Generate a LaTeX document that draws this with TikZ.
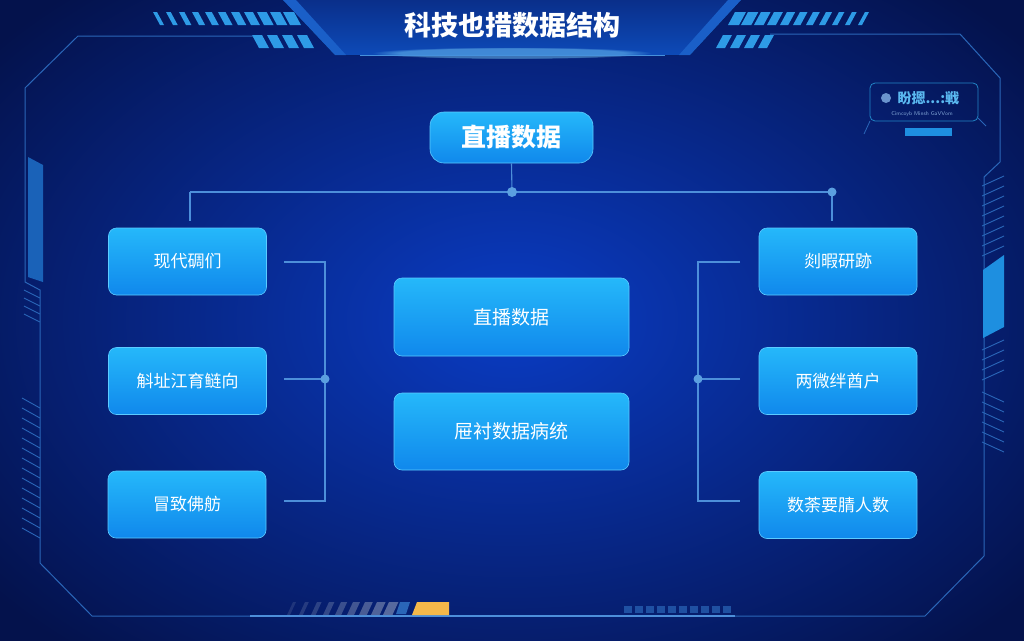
\documentclass[tikz,border=0pt]{standalone}
\usepackage{fontspec}
\newfontfamily\cjk{Noto Sans CJK SC}
\usetikzlibrary{fadings}
\definecolor{bgin}{HTML}{0A3CC4}
\definecolor{bgout}{HTML}{04124C}
\definecolor{boxtop}{HTML}{25B8FA}
\definecolor{boxbot}{HTML}{1088EC}
\definecolor{boxedge}{HTML}{5CCBFF}
\definecolor{conncol}{HTML}{4D8FDA}
\definecolor{dotcol}{HTML}{5B9FE0}
\definecolor{stripecol}{HTML}{2E9BE6}
\definecolor{framecol}{HTML}{2A66B8}
\definecolor{bandtop}{HTML}{0A2F8A}
\definecolor{bandbot}{HTML}{0D4AB8}
\definecolor{wingcol}{HTML}{1A5FC8}
\definecolor{glowcol}{HTML}{7FD8FF}
\definecolor{sidefill}{HTML}{1A62B8}
\definecolor{sidebright}{HTML}{1E8FE0}
\definecolor{orangecol}{HTML}{F5B84A}
\definecolor{greystripe}{HTML}{6A7BA8}
\definecolor{infotext}{HTML}{5AB8F0}
\tikzset{
  box/.style={rectangle, rounded corners=8pt, top color=boxtop, bottom color=boxbot,
    draw=boxedge, line width=0.6pt, text=white, inner sep=0pt,
    minimum width=158pt, minimum height=67pt, font=\cjk\fontsize{17}{20}\selectfont},
  midbox/.style={box, minimum width=235pt, minimum height=78pt, font=\cjk\fontsize{19}{22}\selectfont},
  topbox/.style={box, rounded corners=14pt, minimum width=163pt, minimum height=51pt,
    font=\cjk\bfseries\fontsize{25}{28}\selectfont},
  conn/.style={draw=conncol, line width=1.1pt},
  jdot/.style={fill=dotcol},
  frameline/.style={draw=framecol, line width=1pt},
  stripe/.style={fill=stripecol},
  hatch/.style={draw=framecol, line width=0.9pt}
}
\begin{document}
\begin{tikzpicture}[x=1pt,y=-1pt]
\useasboundingbox (0,0) rectangle (1024,640);
% background
\fill[inner color=bgin, outer color=bgout] (-150,-120) rectangle (1174,760);
% title banner
\fill[top color=bandtop, bottom color=bandbot] (283,0) -- (741,0) -- (690,55) -- (335,55) -- cycle;
\fill[wingcol] (283,0) -- (296,0) -- (346,55) -- (335,55) -- cycle;
\fill[wingcol] (741,0) -- (728,0) -- (679,55) -- (690,55) -- cycle;
\fill[glowcol, opacity=0.45, path fading=circle with fuzzy edge 20 percent] (512,53) ellipse (140 and 6);
\draw[glowcol!50!bandbot, line width=0.8pt] (360,55) -- (665,55);
\node[text=white, font=\cjk\bfseries\fontsize{27}{30}\selectfont] (title) at (512,25) {科技也措数据结构};
% top stripes
\foreach \i in {0,...,10} {
  \pgfmathsetmacro\xx{153+\i*13}
  \pgfmathsetmacro\ww{4+\i*0.7}
  \fill[stripe] (\xx,12) -- ++(\ww,0) -- ++(7,13) -- ++(-\ww,0) -- cycle;
  \pgfmathsetmacro\xr{728+\i*13}
  \pgfmathsetmacro\wr{11-\i*0.7}
  \fill[stripe] (\xr+7,12) -- ++(\wr,0) -- ++(-7,13) -- ++(-\wr,0) -- cycle;
}
\foreach \i in {0,...,3} {
  \pgfmathsetmacro\xx{252+\i*15}
  \fill[stripe] (\xx,35) -- ++(10,0) -- ++(7,13) -- ++(-10,0) -- cycle;
  \pgfmathsetmacro\xr{716+\i*14}
  \fill[stripe] (\xr+7,35) -- ++(9,0) -- ++(-7,13) -- ++(-9,0) -- cycle;
}
% frame
\draw[frameline] (253,36) -- (78,36) -- (25,88) -- (25,282) -- (40,290) -- (40,563) -- (92,616) -- (925,616) -- (984,556) -- (984,177) -- (1000,162) -- (1000,78) -- (960,34) -- (770,34);
% left side decoration
\fill[sidefill] (28,157) -- (43,165) -- (43,282) -- (28,277) -- cycle;
\foreach \yy in {290,298,306,314} { \draw[hatch] (24,\yy) -- (40,\yy+8); }
\foreach \yy in {398,408,418,428,438,448,458,468,478,488,498,508,518,528} { \draw[hatch] (22,\yy) -- (40,\yy+10); }
% right side decoration
\foreach \yy in {176,186,196,206,216,226,236,246} { \draw[hatch] (982,\yy+10) -- (1004,\yy); }
\fill[sidebright] (983,270) -- (1004,255) -- (1004,327) -- (983,338) -- cycle;
\foreach \yy in {340,350,360,370} { \draw[hatch] (982,\yy+10) -- (1004,\yy); }
\foreach \yy in {392,402,412,422,432,442} { \draw[hatch] (982,\yy) -- (1004,\yy+10); }
% info box top right
\draw[framecol!80!cyan, line width=0.8pt, rounded corners=5pt] (870,83) rectangle (978,121);
\draw[framecol, line width=0.8pt] (870,121) -- (864,134);
\draw[framecol, line width=0.8pt] (978,118) -- (986,126);
\fill[framecol!70!white] (886,98) circle (5);
\node[text=infotext, font=\cjk\bfseries\fontsize{14}{16}\selectfont, anchor=west] (infot) at (894,98) {盼摁...:戦};
\node[text=framecol!60!white, font=\sffamily\fontsize{5.5}{6}\selectfont] (infos) at (922,114) {Cimcoyb Minsh GaVVom};
\fill[sidebright] (905,128) rectangle (952,136);
% bottom decoration
\draw[conncol, line width=1.2pt] (250,616) -- (735,616);
\foreach \i in {0,...,8} {
  \pgfmathsetmacro\xx{287+\i*12}
  \pgfmathsetmacro\ww{3+\i*0.8}
  \pgfmathsetmacro\op{0.25+\i*0.07}
  \fill[greystripe, opacity=\op] (\xx+6,602) -- ++(\ww,0) -- ++(-6,13) -- ++(-\ww,0) -- cycle;
}
\fill[framecol] (400,602) -- (410,602) -- (406,614) -- (396,614) -- cycle;
\fill[orangecol] (417,602) -- (449,602) -- (449,615) -- (412,615) -- cycle;
\foreach \i in {0,...,9} {
  \pgfmathsetmacro\xx{624+\i*11}
  \fill[framecol, opacity=0.7] (\xx,606) rectangle ++(8,7);
}
% nodes
\node[topbox] (top) at (511.5,137.5) {直播数据};
\node[box] (L1) at (187.5,261.5) {现代碉们};
\node[box] (L2) at (187.5,381) {斛址江育鲢向};
\node[box] (L3) at (187,504.5) {冒致佛舫};
\node[box] (R1) at (838,261.5) {剡暇研跡};
\node[box] (R2) at (838,381) {两微绊酋户};
\node[box] (R3) at (838,505) {数荼要腈人数};
\node[midbox] (C1) at (511.5,317) {直播数据};
\node[midbox, minimum height=77pt] (C2) at (511.5,431.5) {屉衬数据病统};
% connectors top
\coordinate (tj) at (512,192);
\coordinate (lj) at (190,192);
\coordinate (rj) at (832,192);
\coordinate (lt) at (190,221);
\coordinate (rt) at (832,221);
\draw[conn] (top.south) -- (tj);
\draw[conn] (lj) -- (rj);
\draw[conn] (lj) -- (lt);
\draw[conn] (rj) -- (rt);
\fill[jdot] (tj) circle (5);
\fill[jdot] (rj) circle (4.5);
% left bracket
\coordinate (la) at (284,262);
\coordinate (lb) at (284,379);
\coordinate (lc) at (284,501);
\coordinate (lva) at (325,262);
\coordinate (lvb) at (325,379);
\coordinate (lvc) at (325,501);
\draw[conn] (la) -- (lva) -- (lvc) -- (lc);
\draw[conn] (lb) -- (lvb);
\fill[jdot] (lvb) circle (4.5);
% right bracket
\coordinate (ra) at (740,262);
\coordinate (rb) at (740,379);
\coordinate (rc) at (740,501);
\coordinate (rva) at (698,262);
\coordinate (rvb) at (698,379);
\coordinate (rvc) at (698,501);
\draw[conn] (ra) -- (rva) -- (rvc) -- (rc);
\draw[conn] (rb) -- (rvb);
\fill[jdot] (rvb) circle (4.5);
\end{tikzpicture}
\end{document}
